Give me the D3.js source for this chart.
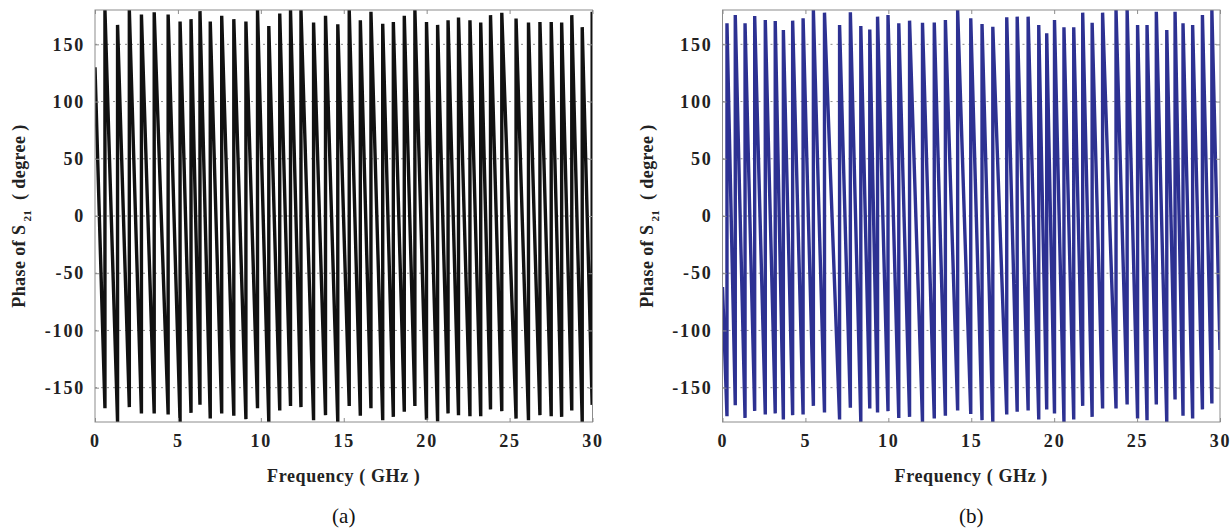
<!DOCTYPE html>
<html>
<head>
<meta charset="utf-8">
<script src="https://cdn.jsdelivr.net/npm/d3@7"></script>
<style>
  body { margin: 0; background: #fff; }
  svg { display: block; }
</style>
</head>
<body>
<div class="charts"></div>
<script>
// axis ticks
const freqTicks = [0, 5, 10, 15, 20, 25, 30];
const phaseTicks = [-150, -100, -50, 0, 50, 100, 150];

// panel (a): phase wraps
const startA = 130;
const jumpFreqA = [0.60, 1.36, 2.07, 2.80, 3.57, 4.41, 5.13, 5.79, 6.33, 6.95,
  7.64, 8.37, 9.10, 9.80, 10.48, 11.14, 11.79, 12.42, 13.18, 13.90,
  14.64, 15.33, 16.00, 16.64, 17.35, 17.99, 18.65, 19.29, 19.99, 20.66,
  21.29, 21.92, 22.61, 23.26, 23.85, 24.53, 25.39, 26.14, 26.83, 27.51,
  28.14, 28.75, 29.38, 29.98];
const topA = [180, 167, 180, 176, 178, 176, 170, 172, 179, 170,
  175, 172, 170, 180, 166, 177, 180, 180, 169, 175,
  167.5, 180, 171, 178.5, 168, 169.5, 175, 180, 169.5, 167,
  171, 173.5, 171, 169, 175.5, 177.5, 172.5, 169, 169.5, 169.5,
  169, 175.5, 165, 178.5];
const bottomA = [-168, -180, -167, -172.5, -172.5, -173.5, -180, -172, -165, -177,
  -172.5, -174.5, -177.5, -168, -180, -170, -166, -167, -178.5, -174,
  -180, -166, -174.5, -168, -178.5, -175.5, -171, -166, -178, -179.5,
  -172.5, -174, -175, -175, -169, -170.5, -177, -178.5, -174, -175,
  -175.5, -170, -180, -165];

// panel (b)
const startB = -62;
const jumpFreqB = [0.27, 0.77, 1.36, 1.94, 2.58, 3.18, 3.67, 4.23, 4.86, 5.48,
  6.15, 7.06, 7.71, 8.34, 8.88, 9.35, 9.98, 10.63, 11.28, 12.06,
  12.77, 13.44, 14.18, 14.97, 15.65, 16.30, 17.14, 17.77, 18.43, 19.07,
  19.55, 20.02, 20.59, 21.18, 21.72, 22.29, 22.92, 23.73, 24.40, 25.03,
  25.60, 26.16, 26.79, 27.29, 27.77, 28.35, 28.94, 29.51];
const topB = [168.4, 175.6, 168.4, 174.8, 171.3, 170.4, 162.5, 170.7, 172.7, 180,
  177.7, 166.9, 178, 166, 163, 174.2, 175.6, 168.4, 170.7, 168.9,
  169, 171.3, 180, 172.7, 167.8, 165.4, 173.6, 174.2, 174.2, 166.9,
  159.6, 171.3, 164.9, 164.9, 177.7, 168.9, 177.7, 180, 180, 166.9,
  166.9, 178.5, 162.5, 178.5, 168.4, 166.9, 175.6, 180];
const bottomB = [-175, -165.3, -176.4, -170.3, -173.4, -172.5, -177.8, -174, -173.4, -165.9,
  -171.7, -177.8, -167.6, -180, -168.2, -171.7, -170.5, -176.4, -175.5, -180,
  -177, -174.6, -170, -173, -178.4, -180, -173.4, -171, -170, -177.8,
  -169, -172.5, -180, -177.8, -165.9, -175.5, -168.2, -168.2, -164.7, -177,
  -178.4, -164.7, -180, -160.3, -174.6, -177, -169, -163.8];
const endB = -117;

var cfg = {
  width: 1232,
  height: 529,
  plotTop: 10,
  plotBottom: 422,
  font: "'Liberation Serif', 'DejaVu Serif', serif"
};

var panels = [
  { id: "a", left: 95, right: 592.5, color: "#111111", label: "(a)",
    start: startA, freqs: jumpFreqA, tops: topA, bottoms: bottomA, end: null },
  { id: "b", left: 722.5, right: 1220, color: "#2d3192", label: "(b)",
    start: startB, freqs: jumpFreqB, tops: topB, bottoms: bottomB, end: endB }
];

// build the polyline: slope down to each wrap, then jump straight up
function buildPoints(p){
  var pts = [[0, p.start]];
  p.freqs.forEach((f, i) => {
    pts.push([f, p.bottoms[i]]);
    pts.push([f, p.tops[i]]);
  });
  if(p.end !== null) pts.push([30, p.end]);
  return pts;
}

function drawPanel(svg, p){
  var x = d3.scaleLinear().domain([0, 30]).range([p.left, p.right]);
  var y = d3.scaleLinear().domain([-180, 180]).range([cfg.plotBottom, cfg.plotTop]);
  var g = svg.append("g").attr("id", "panel-" + p.id);

  // clip
  g.append("clipPath").attr("id", "clip-" + p.id)
    .append("rect")
    .attr("x", p.left).attr("y", cfg.plotTop)
    .attr("width", p.right - p.left).attr("height", cfg.plotBottom - cfg.plotTop);

  // dotted grid
  g.append("g")
    .selectAll("line")
    .data(phaseTicks)
    .enter().append("line")
    .attr("x1", p.left).attr("x2", p.right)
    .attr("y1", d => y(d)).attr("y2", d => y(d))
    .style("stroke", "#8a8a8a")
    .style("stroke-width", 1)
    .style("stroke-dasharray", "2,4");

  // curve
  g.append("path")
    .datum(buildPoints(p))
    .attr("clip-path", `url(#clip-${p.id})`)
    .attr("d", d3.line().x(d => x(d[0])).y(d => y(d[1])))
    .style("fill", "none")
    .style("stroke", p.color)
    .style("stroke-width", 3.4)
    .style("stroke-linejoin", "bevel");

  // frame
  g.append("rect")
    .attr("x", p.left).attr("y", cfg.plotTop)
    .attr("width", p.right - p.left).attr("height", cfg.plotBottom - cfg.plotTop)
    .style("fill", "none")
    .style("stroke", "#8c8c8c")
    .style("stroke-width", 1);

  // axes with inward ticks
  var fmt = d => String(d);
  var xb = g.append("g")
    .attr("transform", `translate(0, ${cfg.plotBottom})`)
    .call(d3.axisBottom(x).tickValues(freqTicks).tickFormat(fmt).tickSizeInner(-4).tickSizeOuter(0).tickPadding(12));
  var xt = g.append("g")
    .attr("transform", `translate(0, ${cfg.plotTop})`)
    .call(d3.axisTop(x).tickValues(freqTicks).tickSizeInner(-4).tickSizeOuter(0).tickFormat(""));
  var yl = g.append("g")
    .attr("transform", `translate(${p.left}, 0)`)
    .call(d3.axisLeft(y).tickValues(phaseTicks).tickFormat(fmt).tickSizeInner(-4).tickSizeOuter(0).tickPadding(10));
  var yr = g.append("g")
    .attr("transform", `translate(${p.right}, 0)`)
    .call(d3.axisRight(y).tickValues(phaseTicks).tickSizeInner(-4).tickSizeOuter(0).tickFormat(""));

  [xb, xt, yl, yr].forEach(a => {
    a.select(".domain").remove();
    a.selectAll("line").style("stroke", "#8c8c8c");
    a.selectAll("text")
      .style("font-family", cfg.font)
      .style("font-weight", "bold")
      .style("font-size", "18px")
      .style("letter-spacing", "1.8px")
      .style("fill", "#222");
  });

  var cx = (p.left + p.right) / 2;

  // x title
  g.append("text")
    .attr("x", cx).attr("y", 482)
    .attr("text-anchor", "middle")
    .style("font-family", cfg.font)
    .style("font-weight", "bold")
    .style("font-size", "18px")
    .style("letter-spacing", "0.6px")
    .style("fill", "#222")
    .text("Frequency ( GHz )");

  // y title
  var yt = g.append("text")
    .attr("transform", `translate(${p.left - 70}, ${(cfg.plotTop + cfg.plotBottom) / 2}) rotate(-90)`)
    .attr("text-anchor", "middle")
    .style("font-family", cfg.font)
    .style("font-weight", "bold")
    .style("font-size", "18px")
    .style("letter-spacing", "0.4px")
    .style("fill", "#222");
  yt.append("tspan").text("Phase of S");
  yt.append("tspan").attr("dy", 6).style("font-size", "11px").text("\u00a021");
  yt.append("tspan").attr("dy", -6).text("\u00a0\u00a0( degree )");

  // panel label
  g.append("text")
    .attr("x", cx).attr("y", 523)
    .attr("text-anchor", "middle")
    .style("font-family", cfg.font)
    .style("font-size", "21px")
    .style("fill", "#111")
    .text(p.label);
}

function createViz(){
  var svg = d3.select(".charts").append("svg")
    .attr("width", cfg.width)
    .attr("height", cfg.height);
  panels.forEach(p => drawPanel(svg, p));
}

createViz();
</script>
</body>
</html>
